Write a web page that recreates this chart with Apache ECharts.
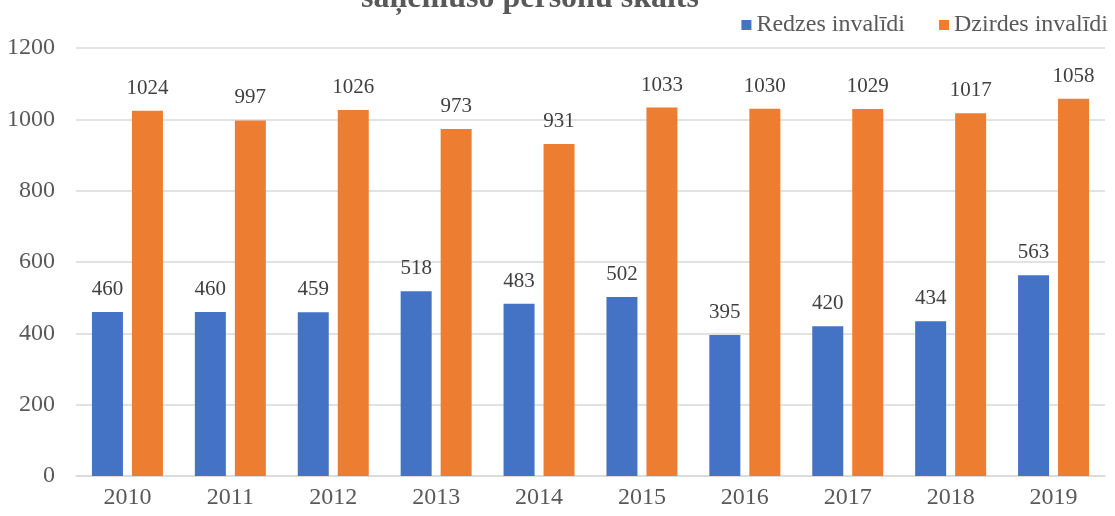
<!DOCTYPE html>
<html><head><meta charset="utf-8">
<script src="https://cdn.jsdelivr.net/npm/echarts@6/dist/echarts.min.js"></script>
<style>html,body{margin:0;padding:0;background:#fff}#c{width:1115px;height:516px}</style>
</head><body><div id="c"></div>
<script>
const categories = ['2010','2011','2012','2013','2014','2015','2016','2017','2018','2019'];
const redzes = [460,460,459,518,483,502,395,420,434,563];
const dzirdes = [1024,997,1026,973,931,1033,1030,1029,1017,1058];
const seriesNames = ['Redzes invalīdi','Dzirdes invalīdi'];
const titleText = 'saņēmušo personu skaits';
const font = 'Liberation Serif, Times New Roman, serif';
const chart = echarts.init(document.getElementById('c'));
const lbl = {show:true, position:'top', distance:12, fontFamily:font, fontSize:21, color:'#404040'};
chart.setOption({
  animation:false,
  title:{text:titleText, left:525, textAlign:'center', top:-22, textStyle:{fontFamily:font, fontSize:32, fontWeight:'bold', color:'#595959'}},
  legend:{right:2, top:8, itemWidth:10, itemHeight:10, itemGap:34, icon:'rect', textStyle:{fontFamily:font, fontSize:24, color:'#595959'}, data:seriesNames},
  grid:{left:76, right:10, top:48, bottom:40},
  xAxis:{type:'category', data:categories, axisTick:{show:false}, axisLine:{lineStyle:{color:'#d9d9d9', width:1.5}}, axisLabel:{fontFamily:font, fontSize:24, color:'#595959', margin:10}},
  yAxis:{type:'value', min:0, max:1200, interval:200, axisLabel:{fontFamily:font, fontSize:24, color:'#595959', margin:21, formatter:v=>String(v)}, splitLine:{lineStyle:{color:'#d9d9d9', width:1.5}}},
  series:[
    {name:seriesNames[0], type:'bar', data:redzes, barWidth:31, barGap:'29%', itemStyle:{color:'#4472c4'}, label:lbl},
    {name:seriesNames[1], type:'bar', data:dzirdes, barWidth:31, itemStyle:{color:'#ed7d31'}, label:lbl}
  ]
});
</script></body></html>
